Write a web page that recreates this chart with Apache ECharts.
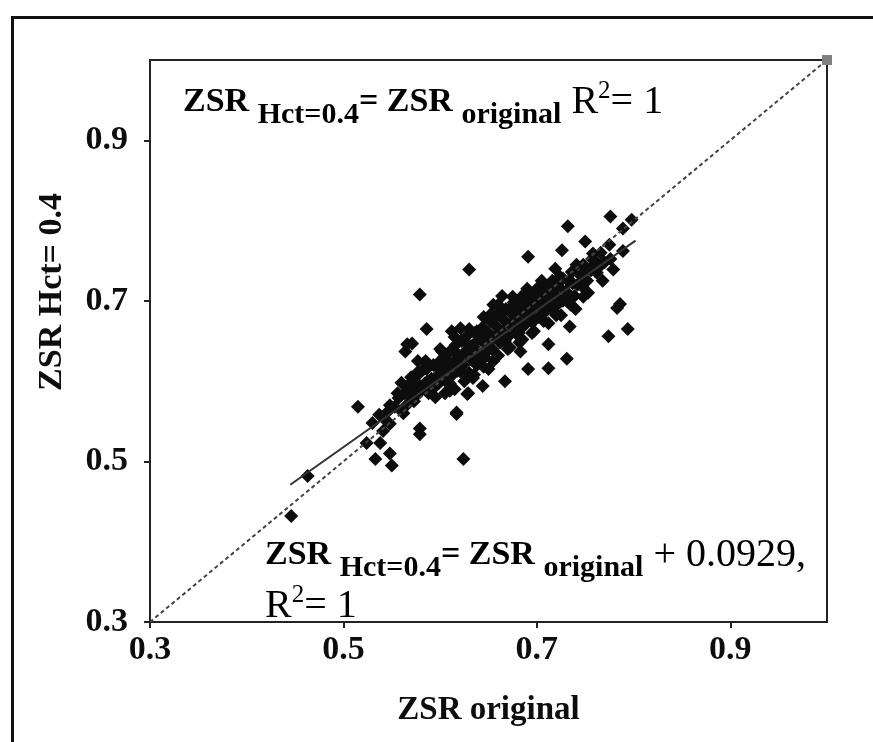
<!DOCTYPE html>
<html>
<head>
<meta charset="utf-8">
<script src="https://cdn.jsdelivr.net/npm/echarts@6/dist/echarts.min.js"></script>
<style>
  html, body { margin: 0; padding: 0; background: #fff; }
  #chart { width: 873px; height: 742px; }
</style>
</head>
<body>
<div id="chart"></div>
<script>
// Axis settings
const axisMin = 0.3;
const axisMax = 1.0;
const tickValues = [0.3, 0.5, 0.7, 0.9];

// Loose points away from the main band: [ZSR original, ZSR Hct=0.4]
const outlierPoints = [
  [0.446, 0.432], [0.463, 0.482], [0.515, 0.568], [0.524, 0.523], [0.533, 0.503],
  [0.548, 0.510], [0.550, 0.495], [0.538, 0.523], [0.579, 0.534], [0.617, 0.559],
  [0.624, 0.503], [0.545, 0.561], [0.548, 0.547], [0.541, 0.538], [0.610, 0.588],
  [0.628, 0.584], [0.579, 0.708], [0.664, 0.706], [0.586, 0.665], [0.571, 0.647],
  [0.564, 0.637], [0.577, 0.625], [0.612, 0.662], [0.602, 0.637], [0.617, 0.561],
  [0.579, 0.541], [0.691, 0.615], [0.712, 0.616], [0.731, 0.628], [0.712, 0.646],
  [0.734, 0.668], [0.683, 0.637], [0.667, 0.600], [0.644, 0.594], [0.610, 0.590],
  [0.629, 0.585], [0.719, 0.685], [0.621, 0.666], [0.638, 0.662], [0.652, 0.683],
  [0.634, 0.604], [0.650, 0.615], [0.732, 0.793], [0.776, 0.805], [0.798, 0.801],
  [0.789, 0.790], [0.750, 0.774], [0.726, 0.763], [0.691, 0.755], [0.789, 0.762],
  [0.758, 0.759], [0.776, 0.752], [0.779, 0.739], [0.765, 0.743], [0.755, 0.740],
  [0.786, 0.696], [0.783, 0.691], [0.794, 0.665], [0.774, 0.656], [0.630, 0.739],
  [0.566, 0.646], [0.576, 0.610], [0.560, 0.598], [0.570, 0.588]
];

// Points in the dense band along the fitted line
const bandPoints = [
  [0.553, 0.568], [0.557, 0.579], [0.560, 0.563], [0.563, 0.585], [0.566, 0.571],
  [0.569, 0.592], [0.571, 0.578], [0.574, 0.600], [0.576, 0.583], [0.579, 0.610],
  [0.581, 0.590], [0.584, 0.597], [0.586, 0.615], [0.588, 0.585], [0.591, 0.603],
  [0.593, 0.620], [0.595, 0.594], [0.598, 0.608], [0.600, 0.625], [0.599, 0.598],
  [0.602, 0.612], [0.604, 0.630], [0.606, 0.600], [0.608, 0.618], [0.610, 0.637],
  [0.612, 0.607], [0.614, 0.624], [0.616, 0.645], [0.618, 0.613], [0.620, 0.630],
  [0.622, 0.650], [0.624, 0.620], [0.626, 0.637], [0.628, 0.657], [0.630, 0.610],
  [0.632, 0.627], [0.634, 0.645], [0.636, 0.660], [0.638, 0.620], [0.640, 0.636],
  [0.642, 0.652], [0.644, 0.667], [0.646, 0.630], [0.648, 0.645], [0.650, 0.660],
  [0.615, 0.590], [0.625, 0.600], [0.635, 0.608], [0.605, 0.585], [0.645, 0.618],
  [0.652, 0.675], [0.654, 0.640], [0.656, 0.655], [0.658, 0.668], [0.660, 0.684],
  [0.662, 0.648], [0.664, 0.662], [0.666, 0.676], [0.668, 0.690], [0.670, 0.655],
  [0.672, 0.670], [0.674, 0.684], [0.676, 0.698], [0.678, 0.660], [0.680, 0.676],
  [0.682, 0.690], [0.684, 0.705], [0.686, 0.668], [0.688, 0.683], [0.690, 0.697],
  [0.692, 0.710], [0.694, 0.675], [0.696, 0.690], [0.698, 0.703], [0.700, 0.715],
  [0.660, 0.632], [0.672, 0.642], [0.685, 0.652], [0.697, 0.662], [0.655, 0.695],
  [0.702, 0.680], [0.704, 0.695], [0.706, 0.708], [0.708, 0.720], [0.710, 0.688],
  [0.712, 0.700], [0.714, 0.713], [0.716, 0.725], [0.718, 0.693], [0.720, 0.706],
  [0.722, 0.718], [0.724, 0.730], [0.727, 0.700], [0.730, 0.712], [0.733, 0.724],
  [0.736, 0.736], [0.739, 0.706], [0.742, 0.720], [0.745, 0.732], [0.748, 0.745],
  [0.752, 0.725], [0.756, 0.738], [0.760, 0.750], [0.712, 0.672], [0.725, 0.682],
  [0.740, 0.690], [0.530, 0.548], [0.537, 0.558], [0.543, 0.552], [0.548, 0.570],
  [0.556, 0.585], [0.562, 0.560], [0.567, 0.595], [0.573, 0.575], [0.578, 0.590],
  [0.583, 0.615], [0.587, 0.600], [0.592, 0.590], [0.597, 0.618], [0.601, 0.605],
  [0.607, 0.625], [0.611, 0.620], [0.617, 0.635], [0.621, 0.612], [0.627, 0.648],
  [0.631, 0.640], [0.637, 0.632], [0.641, 0.660], [0.647, 0.652], [0.651, 0.640],
  [0.657, 0.680], [0.661, 0.660], [0.667, 0.650], [0.671, 0.688], [0.677, 0.672],
  [0.681, 0.660], [0.687, 0.700], [0.691, 0.685], [0.697, 0.675], [0.701, 0.700],
  [0.707, 0.690], [0.711, 0.712], [0.717, 0.705], [0.721, 0.695], [0.727, 0.728],
  [0.731, 0.700], [0.737, 0.722], [0.741, 0.745], [0.747, 0.718], [0.751, 0.740],
  [0.757, 0.752], [0.762, 0.735], [0.766, 0.760], [0.770, 0.748], [0.775, 0.770],
  [0.768, 0.725], [0.753, 0.710], [0.719, 0.740], [0.705, 0.725], [0.690, 0.715],
  [0.675, 0.705], [0.660, 0.695], [0.645, 0.680], [0.630, 0.665], [0.615, 0.655],
  [0.600, 0.640], [0.585, 0.625], [0.570, 0.605], [0.595, 0.580], [0.610, 0.597],
  [0.640, 0.625], [0.655, 0.625], [0.670, 0.640], [0.682, 0.648], [0.695, 0.660],
  [0.707, 0.675], [0.720, 0.682], [0.735, 0.695], [0.748, 0.705]
];

// Reference lines
const identityLine = [[0.3, 0.3], [1.0, 1.0]];
const fittedLine = [[0.445, 0.471], [0.802, 0.775]];

const serif = "'Liberation Serif', 'Times New Roman', serif";
const ink = '#0d0d0d';

const chart = echarts.init(document.getElementById('chart'), null, { renderer: 'canvas' });

const tickFmt = v => Number(v).toFixed(1);

// Equation styles: bold main text, bold subscripts, regular constants and superscript
const eqRich = {
  m: { fontFamily: serif, fontWeight: 'bold', fontSize: 34, color: ink, verticalAlign: 'bottom', padding: [0, 0, 11, 0] },
  s: { fontFamily: serif, fontWeight: 'bold', fontSize: 30, color: ink, verticalAlign: 'bottom', padding: [0, 0, 0, 0] },
  r: { fontFamily: serif, fontWeight: 'normal', fontSize: 40, color: ink, verticalAlign: 'bottom', padding: [0, 0, 8, 0] },
  p: { fontFamily: serif, fontWeight: 'normal', fontSize: 25, color: ink, verticalAlign: 'bottom', padding: [0, 0, 26, 0] }
};

chart.setOption({
  backgroundColor: '#fff',
  animation: false,
  grid: {
    left: 150, right: 46, top: 60, bottom: 120,
    show: true, borderColor: '#222', borderWidth: 2, backgroundColor: 'transparent'
  },
  xAxis: {
    type: 'value', min: axisMin, max: axisMax,
    name: 'ZSR original', nameLocation: 'middle', nameGap: 72,
    nameTextStyle: { fontFamily: serif, fontWeight: 'bold', fontSize: 33, color: ink },
    axisLine: { show: true, onZero: false, lineStyle: { color: '#222', width: 2 } },
    axisTick: { show: true, inside: false, length: 6, customValues: tickValues, lineStyle: { color: '#222', width: 2 } },
    axisLabel: { customValues: tickValues, formatter: tickFmt, margin: 11,
      fontFamily: serif, fontWeight: 'bold', fontSize: 34, color: ink },
    splitLine: { show: false }
  },
  yAxis: {
    type: 'value', min: axisMin, max: axisMax,
    axisLine: { show: true, onZero: false, lineStyle: { color: '#222', width: 2 } },
    axisTick: { show: true, inside: false, length: 6, customValues: tickValues, lineStyle: { color: '#222', width: 2 } },
    axisLabel: { customValues: tickValues, formatter: tickFmt, margin: 22,
      fontFamily: serif, fontWeight: 'bold', fontSize: 34, color: ink },
    splitLine: { show: false }
  },
  graphic: [
    { type: 'rect', left: 10, top: 15, shape: { width: 1000, height: 900 },
      style: { fill: 'none', stroke: '#111', lineWidth: 3 }, silent: true },
    { type: 'text', x: 52, y: 292, rotation: Math.PI / 2, style: {
        text: 'ZSR Hct= 0.4', fontFamily: serif, fontWeight: 'bold', fontSize: 34,
        fill: ink, align: 'center', verticalAlign: 'middle' } },
    { type: 'text', x: 183, y: 79, style: {
        text: '{m|ZSR }{s|Hct=0.4}{m|= ZSR }{s|original}{r| R}{p|2}{r|= 1}',
        rich: eqRich } },
    { type: 'text', x: 265, y: 535, style: {
        text: '{m|ZSR }{s|Hct=0.4}{m|= ZSR }{s|original}{r| + 0.0929,}\n{r|R}{p|2}{r|= 1}',
        rich: eqRich } }
  ],
  series: [
    {
      name: 'identity', type: 'line', data: identityLine, showSymbol: false,
      lineStyle: { color: '#444', width: 2, type: [4, 3] }, z: 3
    },
    {
      name: 'fit', type: 'line', data: fittedLine, showSymbol: false,
      lineStyle: { color: '#333', width: 2 }, z: 4
    },
    {
      name: 'end', type: 'scatter', data: [identityLine[1]], symbol: 'rect', symbolSize: 10,
      itemStyle: { color: '#808080', opacity: 1 }, z: 5
    },
    {
      name: 'band', type: 'scatter', data: bandPoints, symbol: 'diamond', symbolSize: 14,
      itemStyle: { color: ink, opacity: 1 }, z: 2
    },
    {
      name: 'outliers', type: 'scatter', data: outlierPoints, symbol: 'diamond', symbolSize: 14,
      itemStyle: { color: ink, opacity: 1 }, z: 2
    }
  ]
});
</script>
</body>
</html>
